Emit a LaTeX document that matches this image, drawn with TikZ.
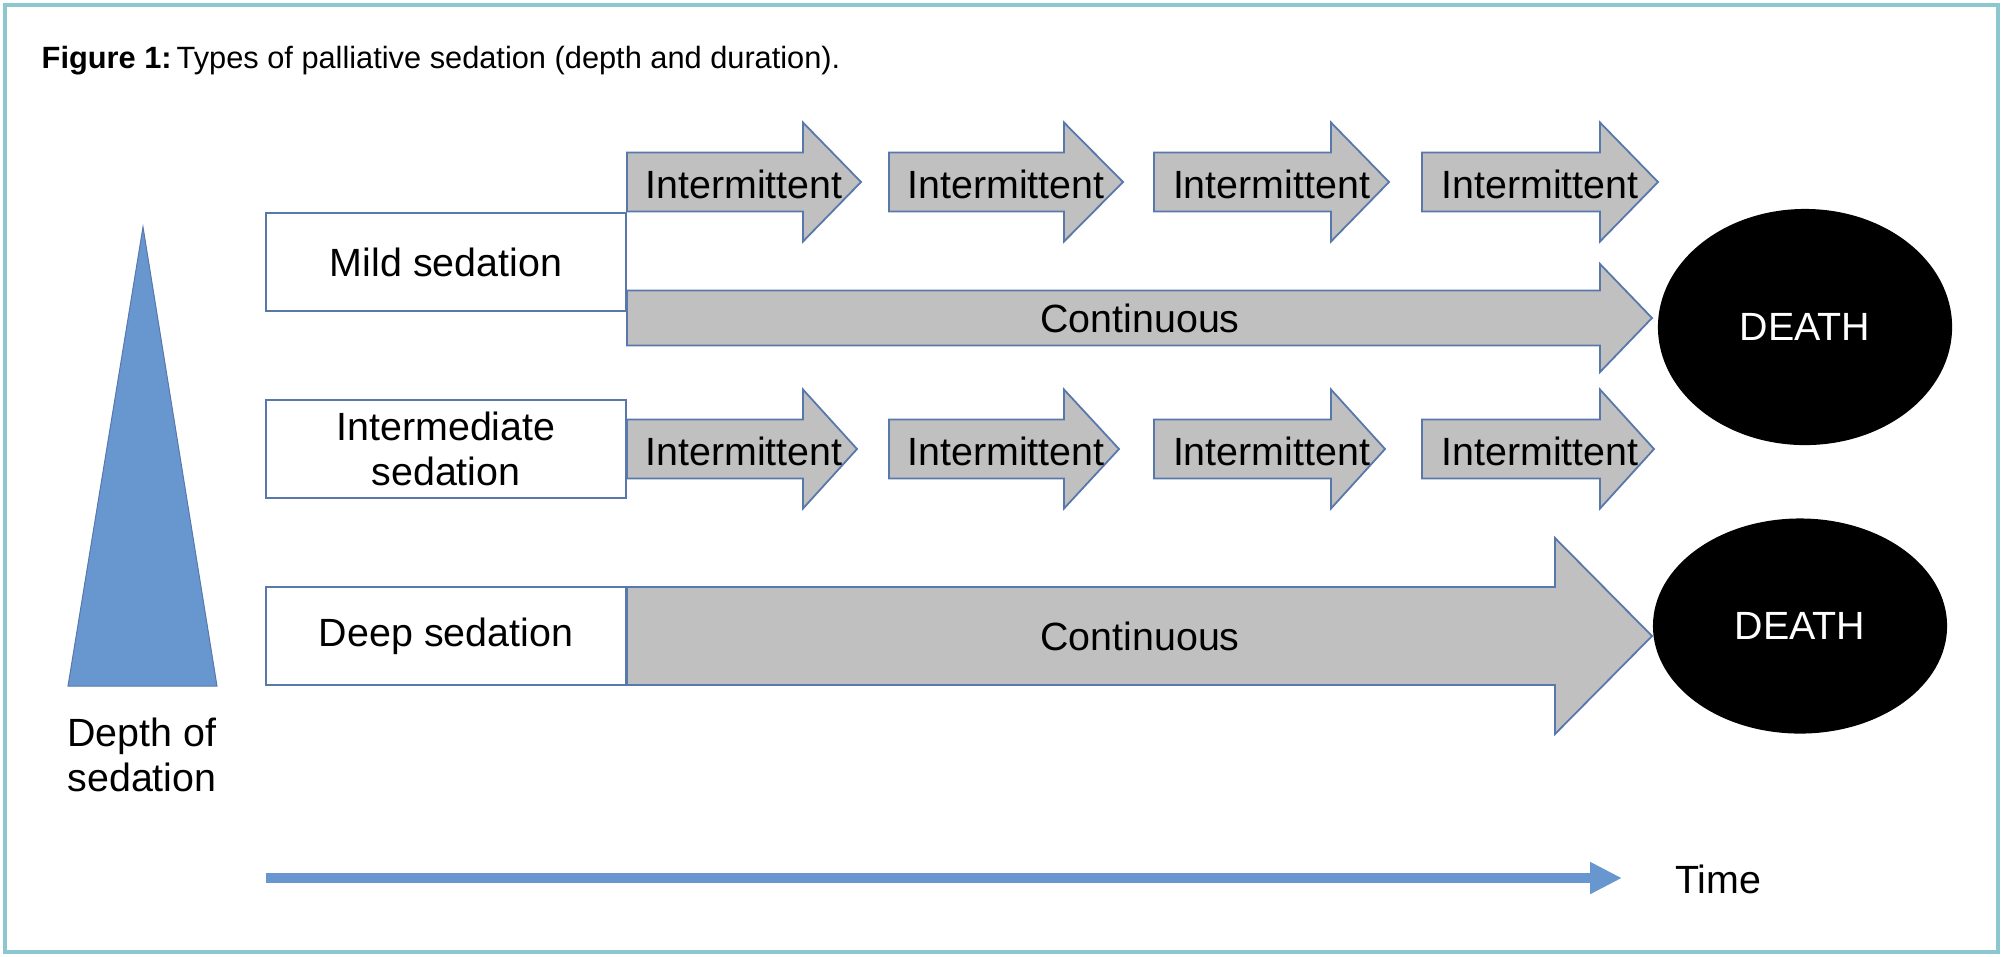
\documentclass[tikz,border=0pt]{standalone}
\usepackage{fontspec}
\setmainfont{Liberation Sans}
\usepackage{xcolor}
\usetikzlibrary{shapes.geometric}
\usetikzlibrary{arrows.meta}
\usetikzlibrary{math}
\usetikzlibrary{calc}

\definecolor{framecol}{HTML}{8CC6CE}
\definecolor{edgeblue}{HTML}{5878AC}
\definecolor{arrowgray}{HTML}{C0C0C0}
\definecolor{depthblue}{HTML}{6897CF}

\begin{document}
\begin{tikzpicture}[x=0.01cm,y=-0.01cm,line width=0.20mm,
  every node/.style={font=\fontsize{11.2}{12.8}\selectfont},
  sedbox/.style={draw=edgeblue,fill=white,minimum width=3.6cm,
    minimum height=0.98cm,align=center,inner sep=0pt},
  deathnode/.style={ellipse,fill=black,text=white,inner sep=0pt},
  arrowshape/.style={draw=edgeblue,fill=arrowgray,line width=0.18mm}]

  \tikzmath{
    \rowA     = 182;  % centre of upper intermittent row
    \rowB     = 318;  % centre of upper continuous arrow
    \rowC     = 449;  % centre of lower intermittent row
    \rowD     = 636;  % centre of deep continuous arrow
    \shaftS   = 29.5; % half height of shaft, small arrows
    \headS    = 59.5; % half height of head, small arrows
    \shaftM   = 27.5; % half height of shaft, upper continuous
    \headM    = 54;   % half height of head, upper continuous
    \shaftD   = 49;   % half height of shaft, deep continuous
    \headD    = 98;   % half height of head, deep continuous
  }

  \useasboundingbox (0,0) rectangle (2004,956);

  % outer frame
  \draw[framecol,line width=0.4mm] (5,5) rectangle (1998,952);

  % caption
  \node[anchor=base west,font=\fontsize{8.75}{10.5}\selectfont] (caption) at (29,68)
  {\textbf{Figure 1:}\kern-1pt\ Types of palliative sedation (depth and duration).};

  % depth triangle
  \coordinate (apex) at (143,227);
  \coordinate (baseL) at (68,686);
  \coordinate (baseR) at (217,686);
  \draw[fill=depthblue,draw=edgeblue,line width=0.1mm] (apex) -- (baseL) -- (baseR) -- cycle;
  \node[align=center] (depth) at (142,755) {Depth of\\sedation};

  % sedation boxes
  \node[sedbox] (mild) at (446,262) {Mild sedation};
  \node[sedbox] (inter) at (446,449) {Intermediate\\sedation};
  \node[sedbox] (deep) at (446,636) {Deep sedation};

  % intermittent arrows, both rows
  \foreach \xa/\xb/\xc [count=\i] in {627/803/861,889/1064/1123,1154/1331/1389,1422/1600/1658}
  {
    \draw[arrowshape] (\xa,\rowA-\shaftS) -- (\xb,\rowA-\shaftS) -- (\xb,\rowA-\headS) -- (\xc,\rowA)
      -- (\xb,\rowA+\headS) -- (\xb,\rowA+\shaftS) -- (\xa,\rowA+\shaftS) -- cycle;
    \node (mildint\i) at ({(\xa+\xc)/2},\rowA+2) {Intermittent};

    \draw[arrowshape] (\xa,\rowC-\shaftS) -- (\xb,\rowC-\shaftS) -- (\xb,\rowC-\headS) -- (\xc-4,\rowC)
      -- (\xb,\rowC+\headS) -- (\xb,\rowC+\shaftS) -- (\xa,\rowC+\shaftS) -- cycle;
    \node (interint\i) at ({(\xa+\xc)/2},\rowC+2) {Intermittent};
  }

  % continuous arrow after mild sedation
  \draw[arrowshape] (627,\rowB-\shaftM) -- (1600,\rowB-\shaftM) -- (1600,\rowB-\headM) -- (1652,\rowB)
    -- (1600,\rowB+\headM) -- (1600,\rowB+\shaftM) -- (627,\rowB+\shaftM) -- cycle;
  \node (mildcont) at (1140,\rowB) {Continuous};

  % continuous arrow after deep sedation
  \draw[arrowshape] (627,\rowD-\shaftD) -- (1555,\rowD-\shaftD) -- (1555,\rowD-\headD) -- (1652,\rowD)
    -- (1555,\rowD+\headD) -- (1555,\rowD+\shaftD) -- (627,\rowD+\shaftD) -- cycle;
  \node (deepcont) at (1140,\rowD) {Continuous};

  % death
  \node[deathnode,minimum width=2.94cm,minimum height=2.36cm] (death1) at (1805,327) {DEATH};
  \node[deathnode,minimum width=2.94cm,minimum height=2.15cm] (death2) at (1800,626) {DEATH};

  % time axis
  \coordinate (tstart) at (266,878);
  \coordinate (tend) at (1622,878);
  \draw[depthblue,line width=0.1cm,-{Triangle[length=0.32cm,width=0.30cm]}] (tstart) -- (tend);
  \node (time) at (1718,879) {Time};

\end{tikzpicture}
\end{document}
